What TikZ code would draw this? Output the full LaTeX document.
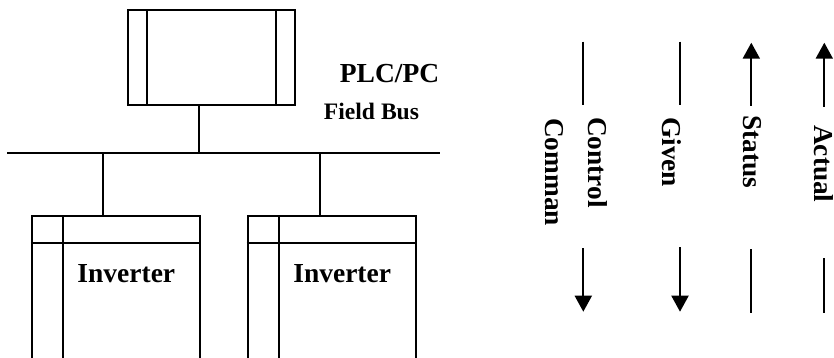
\documentclass[tikz,border=0pt]{standalone}
\usepackage{fontspec}
\setmainfont{Liberation Serif}
\usepackage{tikz}
\usetikzlibrary{arrows.meta, positioning, calc}

\tikzset{
    unit/.style={draw, line width=2pt, inner sep=0pt},
    wire/.style={line width=2pt},
    lbl/.style={font=\bfseries\fontsize{27.5}{30}\selectfont, inner sep=0pt},
    sig/.style={lbl, font=\bfseries\fontsize{27.3}{30}\selectfont, rotate=-90, anchor=base west},
}

\begin{document}
\begin{tikzpicture}[x=1pt, y=-1pt, >={Triangle[length=16pt, width=17pt]}]
        \path[use as bounding box] (0,0) rectangle (834,358);
        % PLC and field bus
        \node[unit, minimum width=167pt, minimum height=95pt] (plc) at (211.3,57.7) {};
        \draw[wire] ([xshift=20pt]plc.north west) -- ([xshift=20pt]plc.south west);
        \draw[wire] ([xshift=-20pt]plc.north east) -- ([xshift=-20pt]plc.south east);
        \node[lbl, anchor=base] (plclbl) at (389.5,83) {PLC/PC};
        \node[lbl, font=\bfseries\fontsize{23.6}{26}\selectfont, anchor=base] (buslbl) at (371.5,120) {Field Bus};
        \coordinate (busL) at (7,153.3);
        \coordinate (busR) at (440,153.3);
        \coordinate (tap0) at (199.3,153.3);
        \coordinate (tap1) at (103.3,153.3);
        \coordinate (tap2) at (319.7,153.3);
        \draw[wire] (busL) -- (busR);
        \draw[wire] (tap0) -- (tap0 |- plc.south);
        % inverters, cut off at the bottom
        \begin{scope}
            \clip (0,0) rectangle (834,358);
            \foreach \inv/\x in {inv1/115.8, inv2/331.7} {
                \node[unit, minimum width=168pt, minimum height=200pt] (\inv) at (\x,316) {};
                \draw[wire] ([yshift=-28pt]\inv.north west) -- ([yshift=-28pt]\inv.north east);
                \draw[wire] ([xshift=32.5pt]\inv.north west) -- ([xshift=32.5pt]\inv.south west);
                \node[lbl, anchor=base] at ($(\inv.north)+(10.5,67)$) {Inverter};
            }
        \end{scope}
        \draw[wire] (tap1) -- (tap1 |- inv1.north);
        \draw[wire] (tap2) -- (tap2 |- inv2.north);
        % signal arrows
        \foreach \s/\x/\a/\b/\c/\d in {ctl/583.3/41.7/105/248/311.7, giv/680/41.7/105/247/311.7,
                                         sta/751.3/42.7/106/249/312.7, act/824.3/42.7/107/258/312.7} {
            \coordinate (\s a) at (\x,\a);
            \coordinate (\s b) at (\x,\b);
            \coordinate (\s c) at (\x,\c);
            \coordinate (\s d) at (\x,\d);
        }
        \draw[wire] (ctla) -- (ctlb);
        \draw[wire, ->] (ctlc) -- (ctld);
        \draw[wire] (giva) -- (givb);
        \draw[wire, ->] (givc) -- (givd);
        \draw[wire, ->] (stab) -- (staa);
        \draw[wire] (stac) -- (stad);
        \draw[wire, ->] (actb) -- (acta);
        \draw[wire] (actc) -- (actd);
        \node[sig] (ctllbl) at (588,117) {Control};
        \node[sig] (cmdlbl) at (545.5,118) {Comman};
        \node[sig] (givlbl) at (662,117) {Given};
        \node[sig] (stalbl) at (743,115) {Status};
        \node[sig] (actlbl) at (814,125) {Actual};
\end{tikzpicture}
\end{document}
